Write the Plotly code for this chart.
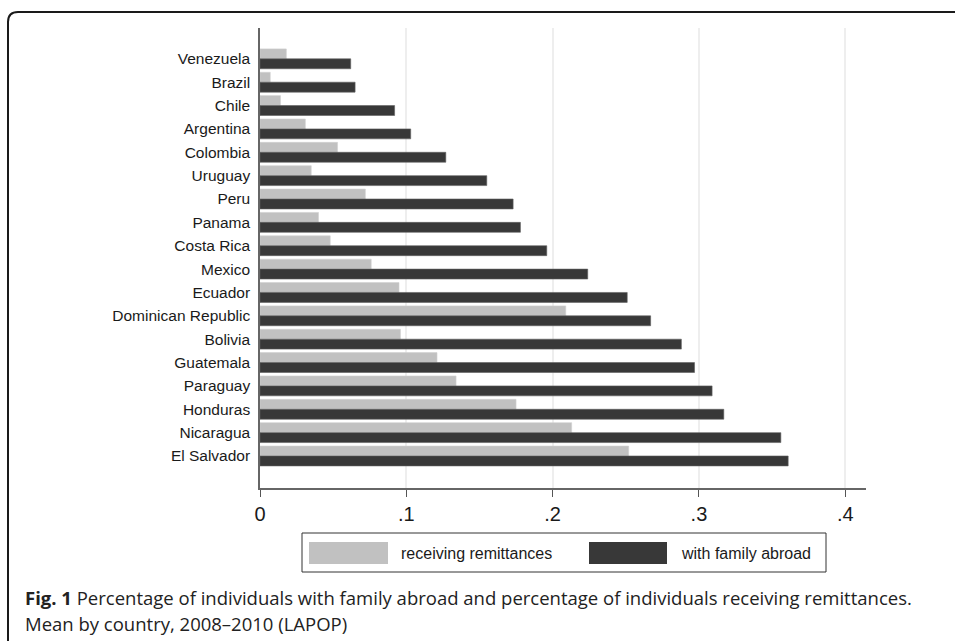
import plotly.graph_objects as go

countries = ["Venezuela", "Brazil", "Chile", "Argentina", "Colombia", "Uruguay", "Peru",
             "Panama", "Costa Rica", "Mexico", "Ecuador", "Dominican Republic", "Bolivia",
             "Guatemala", "Paraguay", "Honduras", "Nicaragua", "El Salvador"]
remittances = [0.018, 0.007, 0.014, 0.031, 0.053, 0.035, 0.072, 0.040, 0.048, 0.076,
               0.095, 0.209, 0.096, 0.121, 0.134, 0.175, 0.213, 0.252]
family_abroad = [0.062, 0.065, 0.092, 0.103, 0.127, 0.155, 0.173, 0.178, 0.196, 0.224,
                 0.251, 0.267, 0.288, 0.297, 0.309, 0.317, 0.356, 0.361]
x_tickvals = [0, 0.1, 0.2, 0.3, 0.4]
x_ticktext = ["0", ".1", ".2", ".3", ".4"]
legend_labels = ["receiving remittances", "with family abroad"]
caption_bold = "Fig. 1"
caption_rest = (" Percentage of individuals with family abroad and percentage of individuals receiving remittances.")
caption_line2 = "Mean by country, 2008\u20132010 (LAPOP)"

LIGHT = "#c1c1c1"
DARK = "#383838"

W, H = 955, 641
L, R, T, B = 260, 866, 28, 488  # plot area in pixels


def px(xp):
    return (xp - L) / (R - L)


def py(yp):
    return (B - yp) / (B - T)


fig = go.Figure()
fig.add_trace(go.Bar(y=countries, x=remittances, orientation="h", name=legend_labels[0],
                     marker=dict(color=LIGHT, line=dict(color="#d0d0d0", width=0.6))))
fig.add_trace(go.Bar(y=countries, x=family_abroad, orientation="h", name=legend_labels[1],
                     marker=dict(color=DARK, line=dict(color="#606060", width=0.6))))

shapes = []
# outer rounded frame
path = (f"M {px(8)},{py(645)} L {px(8)},{py(22)} Q {px(8)},{py(12)} {px(18)},{py(12)} "
        f"L {px(960)},{py(12)}")
shapes.append(dict(type="path", xref="paper", yref="paper", path=path,
                   line=dict(color="#1a1a1a", width=2)))
# legend box
shapes.append(dict(type="rect", xref="paper", yref="paper", x0=px(302), x1=px(826),
                   y0=py(533), y1=py(572), line=dict(color="#333333", width=1),
                   fillcolor="white"))
shapes.append(dict(type="rect", xref="paper", yref="paper", x0=px(309), x1=px(388),
                   y0=py(542), y1=py(564), line=dict(width=0), fillcolor=LIGHT))
shapes.append(dict(type="rect", xref="paper", yref="paper", x0=px(589), x1=px(667),
                   y0=py(542), y1=py(564), line=dict(width=0), fillcolor=DARK))

annotations = [
    dict(xref="paper", yref="paper", x=px(399), y=py(553), text=legend_labels[0],
         showarrow=False, xanchor="left", yanchor="middle",
         font=dict(family="Liberation Sans, Arial", size=16, color="#1a1a1a")),
    dict(xref="paper", yref="paper", x=px(679), y=py(553), text=legend_labels[1],
         showarrow=False, xanchor="left", yanchor="middle",
         font=dict(family="Liberation Sans, Arial", size=16, color="#1a1a1a")),
    dict(xref="paper", yref="paper", x=px(23), y=py(597), text=f"<b>{caption_bold}</b>{caption_rest}",
         showarrow=False, xanchor="left", yanchor="middle",
         font=dict(family="Open Sans", size=18.5, color="#222222")),
    dict(xref="paper", yref="paper", x=px(23), y=py(623), text=caption_line2,
         showarrow=False, xanchor="left", yanchor="middle",
         font=dict(family="Open Sans", size=18.5, color="#222222")),
]

fig.update_layout(
    width=W, height=H,
    margin=dict(l=L, r=W - R, t=T, b=H - B, pad=0),
    paper_bgcolor="white", plot_bgcolor="white",
    barmode="group", bargap=0.15, bargroupgap=0,
    showlegend=False,
    shapes=shapes, annotations=annotations,
    xaxis=dict(range=[0, 0.4142], tickvals=x_tickvals, ticktext=x_ticktext,
               showgrid=True, gridcolor="#eeeeee", gridwidth=2, zeroline=False,
               showline=True, linecolor="#666666", linewidth=1.5,
               ticks="outside", ticklen=7, tickcolor="#555555", tickwidth=1.2,
               tickfont=dict(family="Liberation Sans, Arial", size=20, color="#1a1a1a")),
    yaxis=dict(type="category", range=[18.37, -1.32], showgrid=False, zeroline=False,
               showline=True, linecolor="#666666", linewidth=1.5,
               ticks="outside", ticklen=5, tickcolor="rgba(0,0,0,0)",
               tickfont=dict(family="Liberation Sans, Arial", size=15.5, color="#1a1a1a")),
)

fig.write_html("out.html", config={"displayModeBar": False},
               post_script="document.body.style.margin='0px';document.body.style.overflow='hidden';")
